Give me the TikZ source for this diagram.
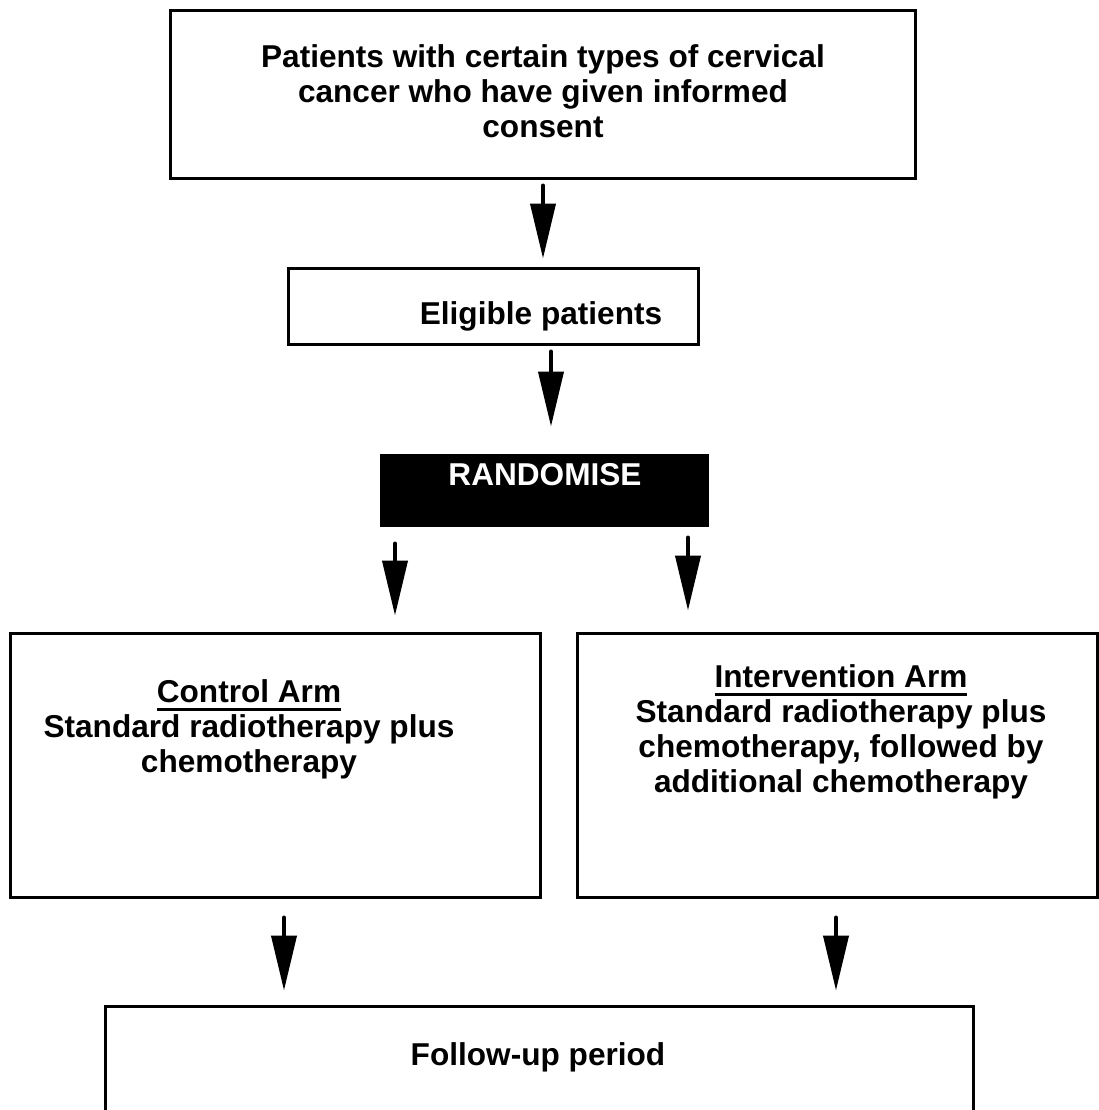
\documentclass[tikz,border=0pt]{standalone}
\usepackage{fontspec}
\setmainfont{Liberation Sans}
\usetikzlibrary{arrows.meta}
\newcommand{\armtitle}[1]{\mbox{\setbox0=\hbox{#1}\rlap{\rule[-4.5pt]{\wd0}{1.4pt}}\box0}}

\begin{document}
\begin{tikzpicture}[x=0.5pt,y=-0.5pt,
    box/.style={draw,line width=1.5pt,inner sep=0pt},
    txt/.style={font=\fontsize{15.8pt}{17.5pt}\selectfont\bfseries,align=center,inner sep=0pt},
    flow/.style={line width=2pt,line cap=round,-{Triangle[length=27.5pt,width=12.5pt]}}]
  \useasboundingbox (0,0) rectangle (1099,1110);
  % boxes
  \node[box,minimum width=372.5pt,minimum height=84pt] (top) at (542.5,94) {};
  \node[box,minimum width=205pt,minimum height=38pt] (elig) at (493,306) {};
  \node[box,fill=black,minimum width=163pt,minimum height=35pt] (rand) at (544,490) {};
  \node[box,minimum width=265pt,minimum height=132pt] (ctrl) at (275,765) {};
  \node[box,minimum width=260pt,minimum height=132pt] (intv) at (837,765) {};
  \node[box,minimum width=434pt,minimum height=62pt] (foll) at (539,1068) {};
  % texts
  \node[txt] (toptxt) at (543,91) {Patients with certain types of cervical\\cancer who have given informed\\consent};
  \node[txt] (eligtxt) at (541,316) {Eligible patients};
  \node[txt,white] (randtxt) at (545,475) {RANDOMISE};
  \node[txt] (ctrltxt) at (249,729) {\armtitle{Control Arm}\\Standard radiotherapy plus\\chemotherapy};
  \node[txt] (intvtxt) at (841,731.5) {\armtitle{Intervention Arm}\\Standard radiotherapy plus\\chemotherapy, followed by\\additional chemotherapy};
  \node[txt] (folltxt) at (538,1057) {Follow-up period};
  % arrow columns
  \coordinate (c1) at (543,0);
  \coordinate (c2) at (551,0);
  \coordinate (c3) at (395,0);
  \coordinate (c4) at (688,0);
  \coordinate (c5) at (284,0);
  \coordinate (c6) at (836,0);
  \draw[flow,shorten <=3pt,shorten >=4pt] (top.south -| c1) -- (elig.north -| c1);
  \draw[flow,shorten <=3pt,shorten >=13.5pt] (elig.south -| c2) -- (rand.north -| c2);
  \draw[flow,shorten <=8.5pt,shorten >=8pt] (rand.south -| c3) -- (ctrl.north -| c3);
  \draw[flow,shorten <=5.5pt,shorten >=10.5pt] (rand.south -| c4) -- (intv.north -| c4);
  \draw[flow,shorten <=9.5pt,shorten >=7pt] (ctrl.south -| c5) -- (foll.north -| c5);
  \draw[flow,shorten <=9.5pt,shorten >=7pt] (intv.south -| c6) -- (foll.north -| c6);
\end{tikzpicture}
\end{document}
